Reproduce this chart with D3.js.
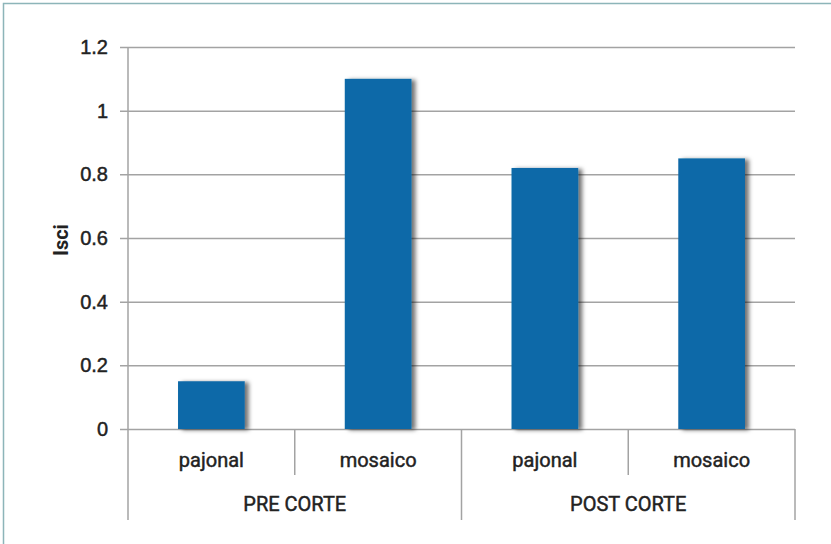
<!DOCTYPE html>
<html>
<head>
<meta charset="utf-8">
<script src="https://cdn.jsdelivr.net/npm/d3@7"></script>
<style>
  html, body { margin: 0; padding: 0; background: #fff; }
  svg { display: block; font-family: Roboto, "Noto Sans", sans-serif; }
  .lbl { stroke: #222; stroke-width: 0.45px; }
</style>
</head>
<body>
<svg id="chart" width="831" height="544"></svg>
<script>
// Isci per habitat, before and after cutting
const groups = ["PRE CORTE", "POST CORTE"];
const categories = ["pajonal", "mosaico", "pajonal", "mosaico"];
const categoryGroup = [0, 0, 1, 1];
const values = [0.15, 1.1, 0.82, 0.85];
const yTicks = [0, 0.2, 0.4, 0.6, 0.8, 1, 1.2];
const yTickLabels = ["0", "0.2", "0.4", "0.6", "0.8", "1", "1.2"];
const yTitle = "Isci";

const svg = d3.select("#chart");
const W = 831, H = 544;
const m = { left: 128, right: 36, top: 47, bottom: 115 };
const plotW = W - m.left - m.right;
const plotH = H - m.top - m.bottom;

const gridColor = "#a3a3a3";
const textColor = "#222";
const barColor = "#0a69a8";

// outer frame (top and left edges visible)
svg.append("rect")
  .attr("x", 3.5).attr("y", 3.5)
  .attr("width", W + 10).attr("height", H + 10)
  .attr("fill", "none").attr("stroke", "#8db5b9").attr("stroke-width", 1.5);

const defs = svg.append("defs");
const f = defs.append("filter").attr("id", "shadow")
  .attr("x", "-20%").attr("y", "-10%").attr("width", "150%").attr("height", "130%");
f.append("feDropShadow")
  .attr("dx", 4).attr("dy", 1).attr("stdDeviation", 2)
  .attr("flood-color", "#000").attr("flood-opacity", 0.55);

const g = svg.append("g").attr("transform", `translate(${m.left},${m.top})`);

const x = d3.scaleBand()
  .domain(d3.range(categories.length))
  .range([0, plotW])
  .paddingInner(0.6)
  .paddingOuter(0.3);

const y = d3.scaleLinear().domain([0, 1.2]).range([plotH, 0]);

// horizontal gridlines with left ticks
const yAxis = d3.axisLeft(y)
  .tickValues(yTicks)
  .tickFormat((d, i) => yTickLabels[i])
  .tickSize(-plotW - 8)
  .tickPadding(12);

const ya = g.append("g").attr("transform", "translate(-8,0)").call(yAxis);
ya.select(".domain").remove();
ya.selectAll(".tick line")
  .attr("x1", 0).attr("x2", plotW + 8)
  .attr("stroke", gridColor).attr("stroke-width", 1.5);
ya.selectAll(".tick text")
  .attr("class", "lbl")
  .attr("x", -12)
  .attr("fill", textColor)
  .style("font-size", "20px");

// vertical axis line, continuing down through the category rows
g.append("line")
  .attr("x1", 0).attr("x2", 0)
  .attr("y1", 0).attr("y2", plotH + 91)
  .attr("stroke", gridColor).attr("stroke-width", 1.5);

// bars
g.append("g").selectAll("rect")
  .data(values)
  .join("rect")
  .attr("x", (d, i) => x(i))
  .attr("y", d => y(d))
  .attr("width", x.bandwidth())
  .attr("height", d => y(0) - y(d))
  .attr("fill", barColor)
  .attr("filter", "url(#shadow)");

// separators below the axis: short between categories, long between groups
const step = x.step();
const sepG = g.append("g");
for (let i = 1; i <= categories.length; i++) {
  const xpos = x(i - 1) + x.bandwidth() / 2 + step / 2;
  const isGroupEdge = i === categories.length || categoryGroup[i] !== categoryGroup[i - 1];
  sepG.append("line")
    .attr("x1", xpos).attr("x2", xpos)
    .attr("y1", plotH).attr("y2", plotH + (isGroupEdge ? 91 : 46))
    .attr("stroke", gridColor).attr("stroke-width", 1.5);
}

// category labels
g.append("g").selectAll("text")
  .data(categories)
  .join("text")
  .attr("class", "lbl")
  .attr("x", (d, i) => x(i) + x.bandwidth() / 2)
  .attr("y", plotH + 38)
  .attr("text-anchor", "middle")
  .attr("fill", textColor)
  .style("font-size", "20px")
  .text(d => d);

// group labels
g.append("g").selectAll("text")
  .data(groups)
  .join("text")
  .attr("class", "lbl")
  .attr("x", (d, gi) => {
    const idx = d3.range(categories.length).filter(i => categoryGroup[i] === gi);
    const a = x(idx[0]) + x.bandwidth() / 2;
    const b = x(idx[idx.length - 1]) + x.bandwidth() / 2;
    return (a + b) / 2;
  })
  .attr("y", plotH + 82)
  .attr("text-anchor", "middle")
  .attr("fill", textColor)
  .style("font-size", "20px")
  .text(d => d);

// y-axis title
svg.append("text")
  .attr("transform", `translate(68,${m.top + plotH / 2 + 2}) rotate(-90)`)
  .attr("text-anchor", "middle")
  .attr("fill", textColor)
  .style("font-size", "20px")
  .style("font-weight", 700)
  .text(yTitle);
</script>
</body>
</html>
